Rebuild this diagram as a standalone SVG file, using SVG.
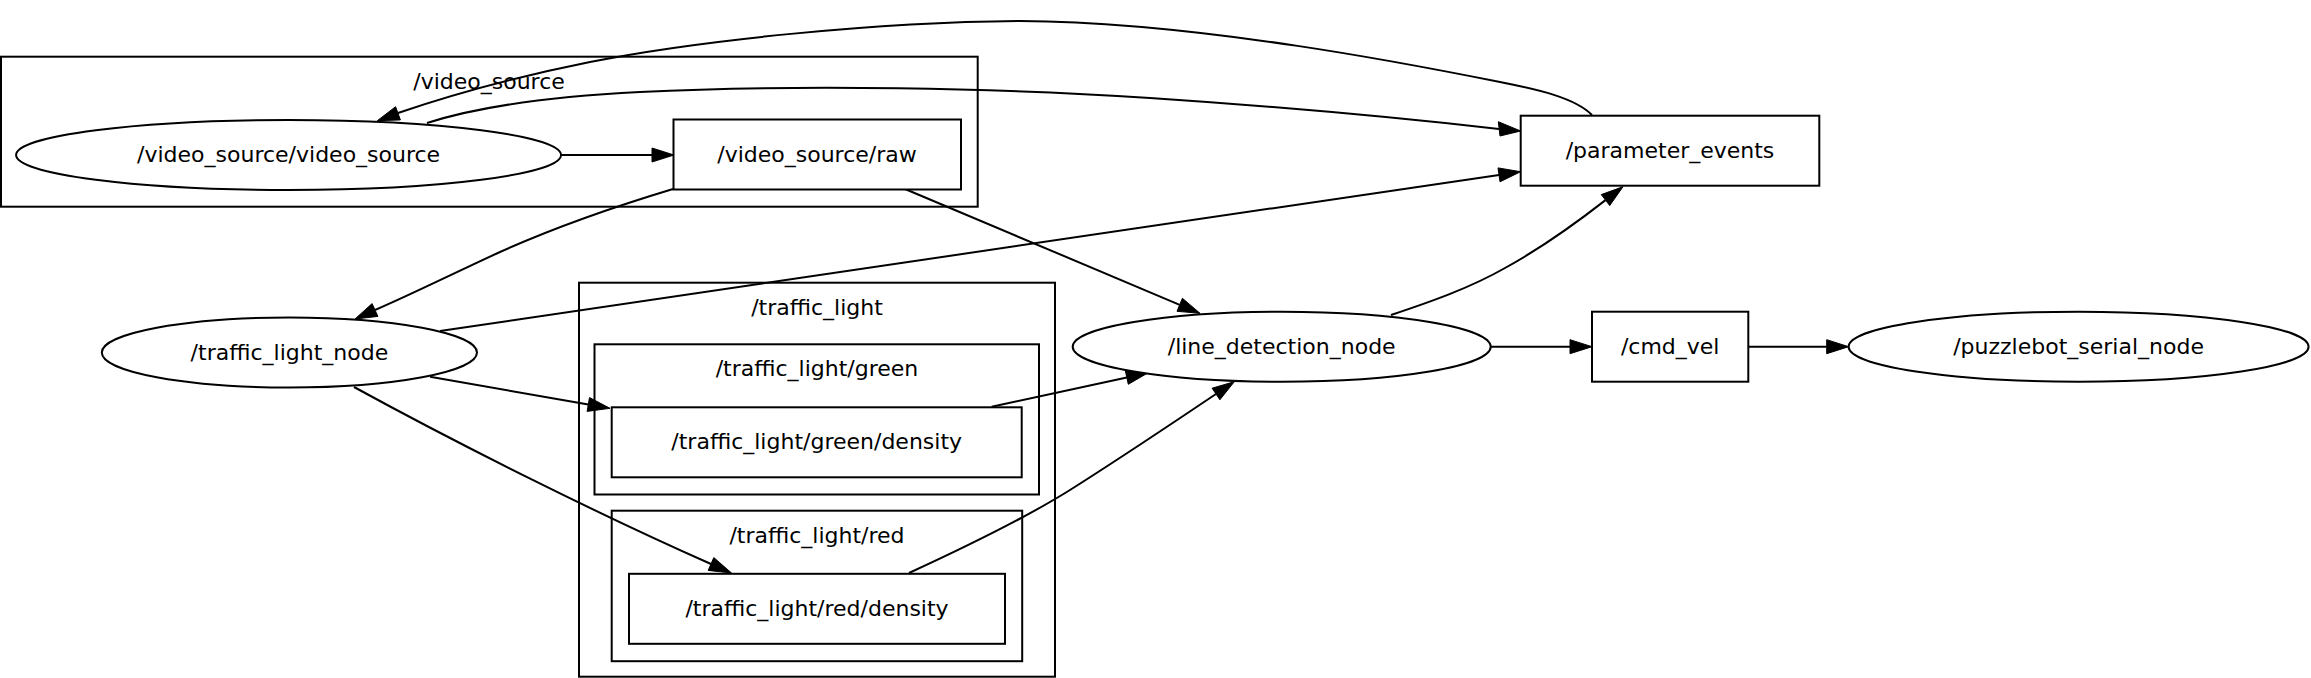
<svg xmlns="http://www.w3.org/2000/svg" width="2311" height="678" viewBox="0 0 2311 678">
<style>
.cl{fill:none;stroke:#000;stroke-width:2}
.nd{fill:#fff;stroke:#000;stroke-width:2}
.e{fill:none;stroke:#000;stroke-width:2}
text{font-family:"DejaVu Sans","Liberation Sans",sans-serif;font-size:22px;text-anchor:middle;fill:#000}
.ah{fill:#000;stroke:#000;stroke-width:1}
</style>
<rect width="2311" height="678" fill="#fff"/>
<g id="cluster_video_source">
<rect class="cl" x="1" y="56.7" width="976.7" height="150"/>
<text x="489" y="89">/video_source</text>
</g>
<g id="cluster_traffic_light">
<rect class="cl" x="579" y="282.7" width="476" height="394"/>
<text x="817" y="315">/traffic_light</text>
</g>
<g id="cluster_traffic_light_green">
<rect class="cl" x="594.5" y="344.3" width="444.5" height="150.2"/>
<text x="817" y="376">/traffic_light/green</text>
</g>
<g id="cluster_traffic_light_red">
<rect class="cl" x="611.7" y="510.7" width="410.5" height="150.5"/>
<text x="817" y="543">/traffic_light/red</text>
</g>
<g id="connectors">
<path class="e" d="M561,155 L652,155"/>
<polygon class="ah" points="674,155 652,148 652,162"/>
<path class="e" d="M427,123 C480,106 560,96 640,92 C800,84 1000,88 1150,98 C1300,108 1420,120 1499,129"/>
<polygon class="ah" points="1520.7,131 1498.3,121.7 1500,136"/>
<path class="e" d="M1592,115 C1575,98 1540,90 1500,82 C1420,66 1200,22 1020,21 C880,22 700,40 590,62 C520,76 460,92 398,113"/>
<polygon class="ah" points="377.3,120.7 400.4,119.9 395.6,106.7"/>
<path class="e" d="M673,189 C620,205 560,225 500,252 C450,275 410,295 375,310"/>
<polygon class="ah" points="355,319 372.1,303.6 377.9,316.4"/>
<path class="e" d="M905,189 L1179.7,304.8"/>
<polygon class="ah" points="1200,313.3 1182.4,298.3 1177,311.3"/>
<path class="e" d="M440,331 L1499,174.9"/>
<polygon class="ah" points="1520.7,171.7 1498,167.9 1500,181.8"/>
<path class="e" d="M430,376.7 L588.3,404.5"/>
<polygon class="ah" points="610,408.3 589.5,397.6 587.1,411.4"/>
<path class="e" d="M354,387 C460,445 600,515 711,564"/>
<polygon class="ah" points="731.5,573 713.8,557.6 708.2,570.4"/>
<path class="e" d="M991.7,406.7 L1126.8,377.4"/>
<polygon class="ah" points="1148.3,372.7 1125.3,370.6 1128.3,384.3"/>
<path class="e" d="M909,573 C970,545 1030,515 1070,490 C1130,452 1180,418 1216,394"/>
<polygon class="ah" points="1234.3,381.7 1212.1,388.2 1219.9,399.8"/>
<path class="e" d="M1391,315 C1430,302 1470,288 1505,268 C1545,246 1580,220 1605.5,200.1"/>
<polygon class="ah" points="1623,186.7 1601.3,194.6 1609.7,205.6"/>
<path class="e" d="M1490.8,346.7 L1570,346.7"/>
<polygon class="ah" points="1592,346.7 1570,339.7 1570,353.7"/>
<path class="e" d="M1748.3,346.7 L1826.7,346.7"/>
<polygon class="ah" points="1848.7,346.7 1826.7,339.7 1826.7,353.7"/>
</g>
<g id="node_video_source_video_source">
<ellipse class="nd" cx="288.6" cy="155" rx="272.5" ry="35"/>
<text x="288.6" y="162">/video_source/video_source</text>
</g>
<g id="node_video_source_raw">
<rect class="nd" x="673.5" y="119.5" width="287.5" height="70"/>
<text x="817" y="162">/video_source/raw</text>
</g>
<g id="node_traffic_light_node">
<ellipse class="nd" cx="289.4" cy="352.5" rx="187.6" ry="35"/>
<text x="289.4" y="359.5">/traffic_light_node</text>
</g>
<g id="node_traffic_light_green_density">
<rect class="nd" x="611.7" y="407.3" width="410" height="70"/>
<text x="816.7" y="449.3">/traffic_light/green/density</text>
</g>
<g id="node_traffic_light_red_density">
<rect class="nd" x="629" y="573.8" width="376" height="70"/>
<text x="817" y="615.8">/traffic_light/red/density</text>
</g>
<g id="node_line_detection_node">
<ellipse class="nd" cx="1281.7" cy="346.7" rx="209" ry="35"/>
<text x="1281.7" y="353.7">/line_detection_node</text>
</g>
<g id="node_parameter_events">
<rect class="nd" x="1520.7" y="115.7" width="298.6" height="70"/>
<text x="1670" y="157.7">/parameter_events</text>
</g>
<g id="node_cmd_vel">
<rect class="nd" x="1592" y="311.7" width="156.3" height="70"/>
<text x="1670.2" y="353.7">/cmd_vel</text>
</g>
<g id="node_puzzlebot_serial_node">
<ellipse class="nd" cx="2078.6" cy="346.7" rx="230" ry="35"/>
<text x="2078.6" y="353.7">/puzzlebot_serial_node</text>
</g>
</svg>
